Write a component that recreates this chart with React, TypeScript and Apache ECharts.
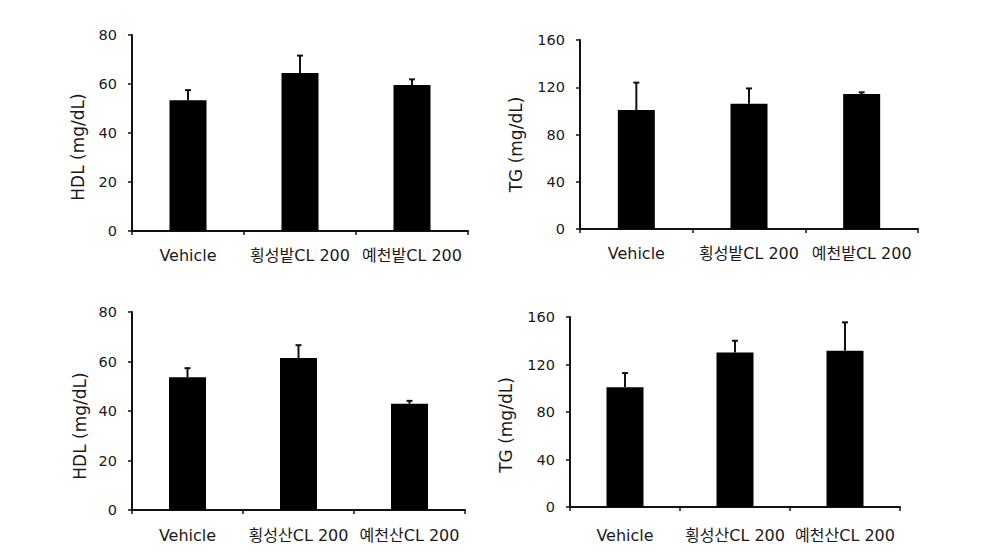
import React, { useEffect, useRef } from "react";
import * as echarts from "echarts";

const categoriesTop = ["Vehicle", "횡성밭CL 200", "예천밭CL 200"];
const categoriesBottom = ["Vehicle", "횡성산CL 200", "예천산CL 200"];

const hdlTop = [53.4, 64.5, 59.6];
const hdlTopErr = [4.1, 7.1, 2.3];
const tgTop = [100.7, 106.1, 114.3];
const tgTopErr = [23.2, 12.9, 1.4];
const hdlBottom = [53.6, 61.4, 42.9];
const hdlBottomErr = [3.7, 5.2, 1.2];
const tgBottom = [100.8, 130.2, 131.6];
const tgBottomErr = [12.0, 9.8, 23.9];

const hdlAxisMax = 80;
const hdlAxisStep = 20;
const tgAxisMax = 160;
const tgAxisStep = 40;

const FONT = "'DejaVu Sans', 'Noto Sans CJK KR', sans-serif";
const TEXT = "#1a1a1a";

const panels = [
  { cats: categoriesTop, vals: hdlTop, errs: hdlTopErr, name: "HDL (mg/dL)", max: hdlAxisMax, step: hdlAxisStep,
    grid: { left: 132, top: 35, width: 336, height: 196 }, nameGap: 46, namePad: 28, labelMargin: 16 },
  { cats: categoriesTop, vals: tgTop, errs: tgTopErr, name: "TG (mg/dL)", max: tgAxisMax, step: tgAxisStep,
    grid: { left: 580, top: 40, width: 338, height: 189 }, nameGap: 56, namePad: 20, labelMargin: 16 },
  { cats: categoriesBottom, vals: hdlBottom, errs: hdlBottomErr, name: "HDL (mg/dL)", max: hdlAxisMax, step: hdlAxisStep,
    grid: { left: 132, top: 312, width: 333, height: 198 }, nameGap: 44, namePad: 30, labelMargin: 17 },
  { cats: categoriesBottom, vals: tgBottom, errs: tgBottomErr, name: "TG (mg/dL)", max: tgAxisMax, step: tgAxisStep,
    grid: { left: 570, top: 317, width: 330, height: 190 }, nameGap: 56, namePad: 26, labelMargin: 20 },
];

export default function App() {
  const ref = useRef<HTMLDivElement>(null);
  useEffect(() => {
    if (!ref.current) return;
    const chart = echarts.init(ref.current, null, { renderer: "svg" });
    const grid: any[] = [];
    const xAxis: any[] = [];
    const yAxis: any[] = [];
    const series: any[] = [];
    panels.forEach((p, i) => {
      grid.push({ ...p.grid, containLabel: false });
      xAxis.push({
        type: "category",
        gridIndex: i,
        data: p.cats,
        axisLine: { lineStyle: { color: "#111", width: 2 } },
        axisTick: { show: true, length: 4, alignWithLabel: false, lineStyle: { color: "#111", width: 1.5 } },
        axisLabel: { color: TEXT, fontSize: 16, fontFamily: FONT, margin: p.labelMargin, interval: 0 },
        splitLine: { show: false },
      });
      yAxis.push({
        type: "value",
        gridIndex: i,
        min: 0,
        max: p.max,
        interval: p.step,
        name: p.name,
        nameLocation: "middle",
        nameGap: p.nameGap,
        nameRotate: 90,
        nameTextStyle: { color: TEXT, fontSize: 17, fontFamily: FONT, padding: [0, p.namePad, 0, 0] },
        axisLine: { show: true, lineStyle: { color: "#111", width: 2 } },
        axisTick: { show: true, length: 4, lineStyle: { color: "#111", width: 1.5 } },
        axisLabel: { color: TEXT, fontSize: 14.5, fontFamily: FONT, margin: 15 },
        splitLine: { show: false },
      });
      series.push({
        type: "bar",
        xAxisIndex: i,
        yAxisIndex: i,
        data: p.vals,
        barWidth: 37,
        itemStyle: { color: "#000" },
        z: 2,
      });
      series.push({
        type: "custom",
        xAxisIndex: i,
        yAxisIndex: i,
        data: p.vals.map((v, k) => [k, v, p.errs[k]]),
        encode: { x: 0, y: 1 },
        z: 3,
        renderItem: (params: any, api: any) => {
          const idx = api.value(0);
          const v = api.value(1);
          const e = api.value(2);
          const p0 = api.coord([idx, v]);
          const p1 = api.coord([idx, v + e]);
          const st = { stroke: "#111", lineWidth: 2 };
          return {
            type: "group",
            children: [
              { type: "line", shape: { x1: p0[0], y1: p0[1], x2: p1[0], y2: p1[1] }, style: st },
              { type: "line", shape: { x1: p1[0] - 3, y1: p1[1], x2: p1[0] + 3, y2: p1[1] }, style: st },
            ],
          };
        },
      });
    });
    chart.setOption({
      animation: false,
      backgroundColor: "#ffffff",
      grid,
      xAxis,
      yAxis,
      series,
    });
    return () => chart.dispose();
  }, []);
  return (
    <div
      ref={ref}
      style={{ position: "fixed", left: 0, top: 0, width: 985, height: 557, background: "#fff" }}
    />
  );
}
